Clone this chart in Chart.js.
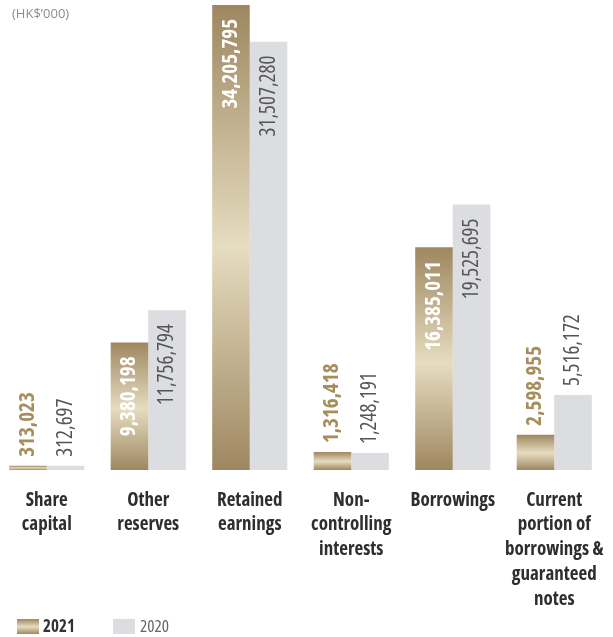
<!DOCTYPE html>
<html>
<head>
<meta charset="utf-8">
<script src="https://cdn.jsdelivr.net/npm/chart.js@4.4.1/dist/chart.umd.min.js"></script>
<style>
    body { margin: 0; background: #fff; }
    #wrap { position: relative; width: 613px; height: 637px; overflow: hidden; }
    #chart { position: absolute; left: -4px; top: 0; }
</style>
</head>
<body>
<div id="wrap"><canvas id="chart" width="617" height="637"></canvas></div>
<script>
const categories = [
    ['Share', 'capital'],
    ['Other', 'reserves'],
    ['Retained', 'earnings'],
    ['Non-', 'controlling', 'interests'],
    ['Borrowings'],
    ['Current', 'portion of', 'borrowings &', 'guaranteed', 'notes']
]
const values2021 = [313023, 9380198, 34205795, 1316418, 16385011, 2598955]
const values2020 = [312697, 11756794, 31507280, 1248191, 19525695, 5516172]
const seriesNames = ['2021', '2020']
const unitLabel = '(HK$\u2019000)'

const FAMILY = '"Open Sans", "Liberation Sans", sans-serif'
const GOLD_DARK = '#9e8760'
const GOLD_LIGHT = '#e6dcc0'
const GREY = '#dcdde1'
const OFFSET = 4 // canvas sits 4px left of the page

function goldGradient(ctx, top, bottom) {
    const g = ctx.createLinearGradient(0, top, 0, bottom)
    g.addColorStop(0, GOLD_DARK)
    g.addColorStop(0.52, GOLD_LIGHT)
    g.addColorStop(1, GOLD_DARK)
    return g
}

// gradient for each 2021 bar, from its top to the axis
function goldFill(c) {
    const chart = c.chart
    if (!chart.chartArea || c.raw === undefined) return GOLD_DARK
    const y = chart.scales.y
    return goldGradient(chart.ctx, y.getPixelForValue(c.raw), y.getPixelForValue(0))
}

const valueLabels = {
    id: 'valueLabels',
    afterDatasetsDraw(chart) {
        const ctx = chart.ctx
        chart.data.datasets.forEach((ds, di) => {
            const meta = chart.getDatasetMeta(di)
            meta.data.forEach((bar, i) => {
                const text = ds.data[i].toLocaleString('en-US')
                const bold = di === 0
                ctx.save()
                ctx.font = (bold ? 'bold ' : '') + 'condensed 21px ' + FAMILY
                const w = ctx.measureText(text).width
                const h = bar.base - bar.y
                const pad = 14
                ctx.textBaseline = 'middle'
                if (h >= w + pad * 2) {
                    ctx.fillStyle = bold ? '#ffffff' : '#555555'
                    ctx.translate(bar.x, bar.y + pad)
                    ctx.rotate(-Math.PI / 2)
                    ctx.textAlign = 'right'
                } else {
                    ctx.fillStyle = bold ? '#a68d5c' : '#555555'
                    ctx.translate(bar.x, bar.y - 9)
                    ctx.rotate(-Math.PI / 2)
                    ctx.textAlign = 'left'
                }
                ctx.fillText(text, 0, 0)
                ctx.restore()
            })
        })
    }
}

// unit text top-left and legend bottom-left
const extras = {
    id: 'extras',
    afterDraw(chart) {
        const ctx = chart.ctx
        ctx.save()
        ctx.fillStyle = '#8c8c8c'
        ctx.font = '13px ' + FAMILY
        ctx.textBaseline = 'middle'
        ctx.textAlign = 'left'
        ctx.fillText(unitLabel, 12 + OFFSET, 14)

        ctx.fillStyle = goldGradient(ctx, 619, 634)
        ctx.fillRect(17 + OFFSET, 619, 22, 15)
        ctx.fillStyle = '#333333'
        ctx.font = 'bold condensed 17px ' + FAMILY
        ctx.fillText(seriesNames[0], 43 + OFFSET, 627)

        ctx.fillStyle = GREY
        ctx.fillRect(113 + OFFSET, 619, 22, 15)
        ctx.fillStyle = '#666666'
        ctx.font = 'condensed 17px ' + FAMILY
        ctx.fillText(seriesNames[1], 140 + OFFSET, 627)
        ctx.restore()
    }
}

new Chart(document.getElementById('chart'), {
    type: 'bar',
    data: {
        labels: categories,
        datasets: [
            {
                label: seriesNames[0],
                data: values2021,
                backgroundColor: goldFill,
                borderWidth: 0,
                categoryPercentage: 0.74,
                barPercentage: 1.0
            },
            {
                label: seriesNames[1],
                data: values2020,
                backgroundColor: GREY,
                borderWidth: 0,
                categoryPercentage: 0.74,
                barPercentage: 1.0
            }
        ]
    },
    options: {
        responsive: false,
        animation: false,
        layout: { padding: { left: 0, right: 8, top: 0, bottom: 0 } },
        plugins: {
            legend: { display: false },
            tooltip: { enabled: false }
        },
        scales: {
            x: {
                grid: { display: false, drawTicks: false },
                border: { display: false },
                ticks: {
                    color: '#2e2e2e',
                    padding: 18,
                    maxRotation: 0,
                    autoSkip: false,
                    // weight string also carries the condensed width
                    font: { family: FAMILY, size: 19, weight: 'bold condensed', lineHeight: 1.3 }
                },
                afterFit(scale) {
                    scale.height = 167
                    scale.paddingLeft = 0
                    scale.paddingRight = 0
                }
            },
            y: {
                display: false,
                min: 0,
                max: 34574000
            }
        }
    },
    plugins: [valueLabels, extras]
})
</script>
</body>
</html>
